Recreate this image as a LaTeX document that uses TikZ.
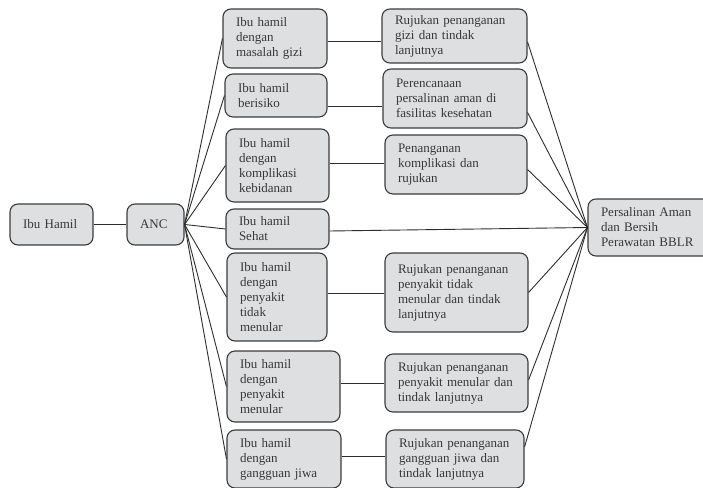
\documentclass[tikz,border=0pt]{standalone}
\usepackage{fontspec}
\setmainfont{Liberation Serif}
\usetikzlibrary{calc}
\definecolor{boxfill}{RGB}{222,223,225}
\definecolor{boxline}{RGB}{60,60,60}
\definecolor{wirecol}{RGB}{45,45,45}
\definecolor{ink}{RGB}{55,55,55}
\tikzset{
  stepbox/.style={draw=boxline, fill=boxfill, line width=1.1pt,
    rounded corners=8pt, align=left, inner xsep=13pt, inner ysep=2pt,
    text=ink, font=\fontsize{13}{15}\selectfont},
  wire/.style={draw=wirecol, line width=0.9pt}
}

\begin{document}
\begin{tikzpicture}[x=1pt,y=-1pt]

    \useasboundingbox (0,0) rectangle (703,487);

    %% start
    \node[stepbox, text width=57pt, minimum height=41pt] (hamil) at (51.5,224.5) {Ibu Hamil};
    \node[stepbox, text width=31pt, minimum height=41pt] (anc) at (155.5,224.5) {ANC};

    %%%%%%%%%%%%%%%%
    % left column: groups of pregnant women
    \node[stepbox, text width=78pt, minimum height=59pt] (l1) at (275,38.5)
      {Ibu hamil\\dengan\\masalah gizi};
    \node[stepbox, text width=76pt, minimum height=43pt] (l2) at (276,95.5)
      {Ibu hamil\\berisiko};
    \node[stepbox, text width=77pt, minimum height=73pt] (l3) at (277.5,165.5)
      {Ibu hamil\\dengan\\komplikasi\\kebidanan};
    \node[stepbox, text width=77pt, minimum height=40pt] (l4) at (277.5,229)
      {Ibu hamil\\Sehat};
    \node[stepbox, text width=74pt, minimum height=88pt] (l5) at (277,297)
      {Ibu hamil\\dengan\\penyakit\\tidak\\menular};
    \node[stepbox, text width=87pt, minimum height=71pt] (l6) at (283.5,386.5)
      {Ibu hamil\\dengan\\penyakit\\menular};
    \node[stepbox, text width=88pt, minimum height=58pt] (l7) at (284,459)
      {Ibu hamil\\dengan\\gangguan jiwa};

    %%%%%%%%%%%%%%%%
    % right column: follow-up
    \node[stepbox, text width=119pt, minimum height=54pt] (r1) at (454.5,36)
      {Rujukan penanganan\\gizi dan tindak\\lanjutnya};
    \node[stepbox, text width=118pt, minimum height=59pt] (r2) at (455,98.5)
      {Perencanaan\\persalinan aman di\\fasilitas kesehatan};
    \node[stepbox, text width=116pt, minimum height=59pt] (r3) at (456,164.5)
      {Penanganan\\komplikasi dan\\rujukan};
    \node[stepbox, text width=117pt, minimum height=79pt] (r4) at (456.5,292.5)
      {Rujukan penanganan\\penyakit tidak\\menular dan tindak\\lanjutnya};
    \node[stepbox, text width=117pt, minimum height=58pt] (r5) at (456.5,383)
      {Rujukan penanganan\\penyakit menular dan\\tindak lanjutnya};
    \node[stepbox, text width=112pt, minimum height=58pt] (r6) at (455,459)
      {Rujukan penanganan\\gangguan jiwa dan\\tindak lanjutnya};

    %% end (runs off the right edge)
    \node[stepbox, text width=104pt, minimum height=57pt] (fin) at (653,227.5)
      {Persalinan Aman\\dan Bersih\\Perawatan BBLR};

    %%%%%%%%%%%%%%%%
    %% connectors
    \draw[wire] (hamil) -- (anc);
    \foreach \n in {l1,l2,l3,l4,l5,l6,l7}
      \draw[wire] (anc.east) -- (\n.west);

    %% left -> right, straight across
    \draw[wire] ([yshift=-3pt]l1.east) -- ([yshift=-3pt]l1.east -| r1.west);
    \draw[wire] ([yshift=-11pt]l2.east) -- ([yshift=-11pt]l2.east -| r2.west);
    \draw[wire] ([yshift=2pt]l3.east) -- ([yshift=2pt]l3.east -| r3.west);
    \draw[wire] ([yshift=4pt]l5.east) -- ([yshift=4pt]l5.east -| r4.west);
    \draw[wire] ([yshift=3pt]l6.east) -- ([yshift=3pt]l6.east -| r5.west);
    \draw[wire] ([yshift=3pt]l7.east) -- ([yshift=3pt]l7.east -| r6.west);

    %% into the end box
    \draw[wire] ([yshift=-2pt]l4.east) -- (fin.west);
    \foreach \n/\s in {r1/-6,r2/-14,r3/-5,r4/0,r5/3,r6/12}
      \draw[wire] ([yshift=\s pt]\n.east) -- (fin.west);

\end{tikzpicture}
\end{document}
